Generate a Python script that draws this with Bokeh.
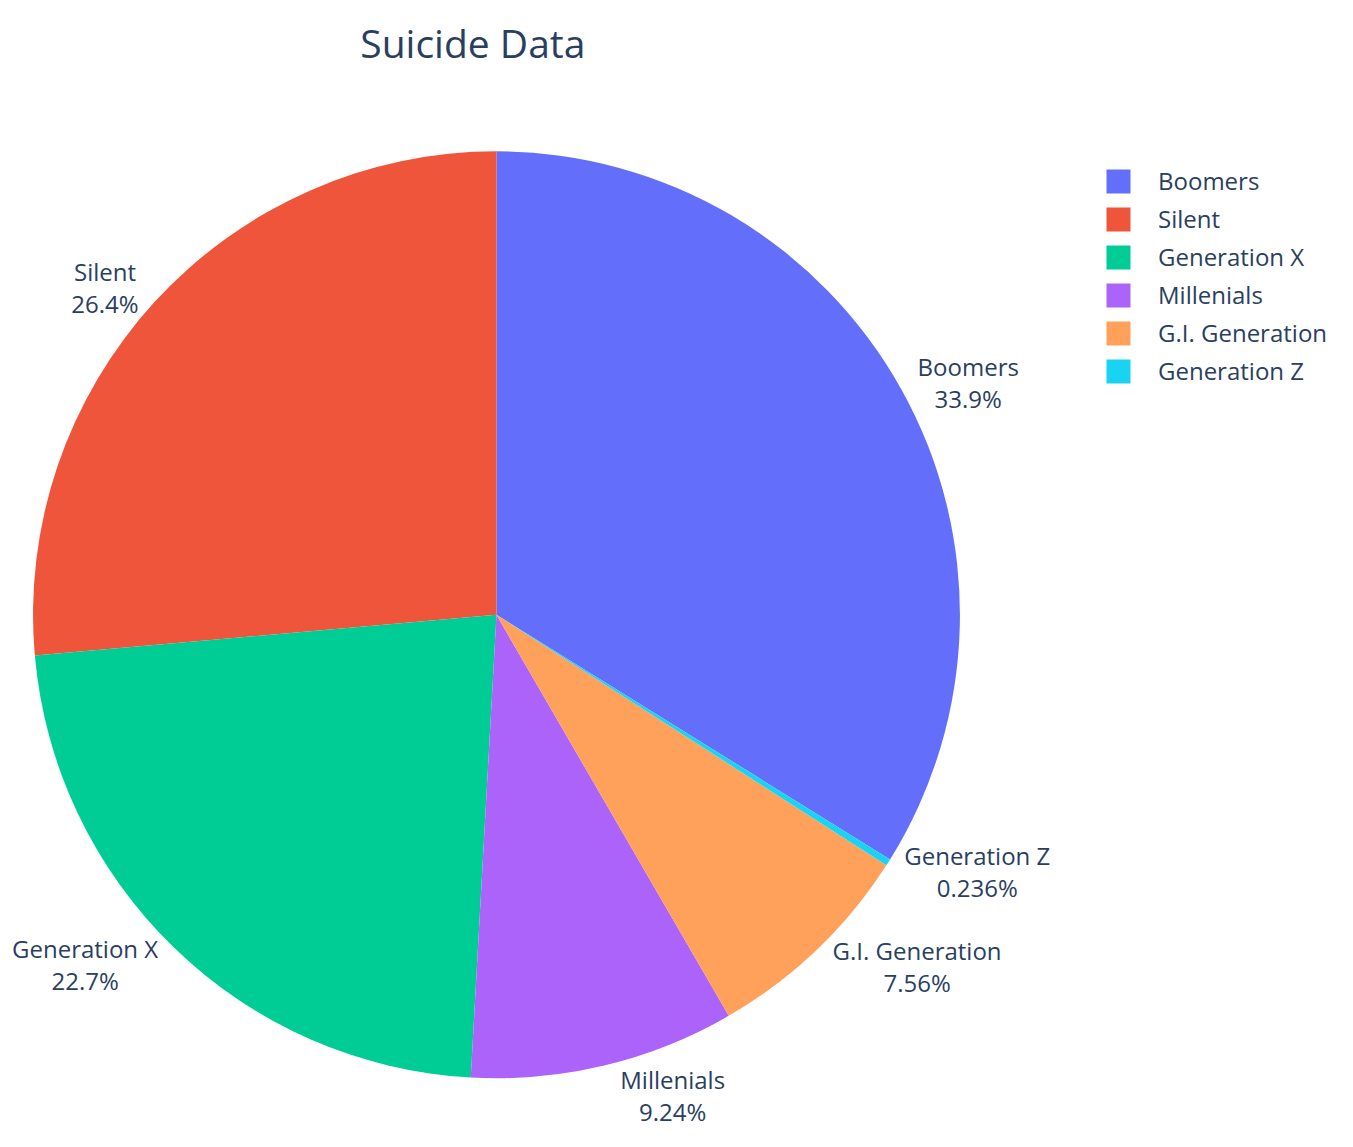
import numpy as np
from bokeh.plotting import figure
from bokeh.models import Range1d, ColumnDataSource, Legend, LegendItem
from bokeh.core.properties import value
from bokeh.embed import file_html
from bokeh.resources import INLINE

# ---- data ----
generations = ["Boomers", "Silent", "Generation X", "Millenials", "G.I. Generation", "Generation Z"]
suicides = [2284498, 1781744, 1532804, 623459, 510009, 15906]
colors = ["#636efa", "#EF553B", "#00cc96", "#ab63fa", "#FFA15A", "#19d3f3"]
title_text = "Suicide Data"

# ---- layout ----
W, H = 1337, 1131
S = H / 1147.0                      # fit the 1353x1147 design into the figure
FONT = "Open Sans"
TXT = "#2a3f5f"
LABEL_PX = 24
cx, cy, R = 503 * S, H - 623 * S, 470 * S

vals = np.array(suicides, dtype=float)
frac = vals / vals.sum()
cum_end = np.cumsum(frac)
cum_start = cum_end - frac
# slices run counter-clockwise; the first slice ends at 12 o'clock
start_angle = np.pi / 2 + 2 * np.pi * (cum_start - frac[0])
end_angle = np.pi / 2 + 2 * np.pi * (cum_end - frac[0])
pct_txt = [format(f * 100, ".3g") + "%" for f in frac]

src = ColumnDataSource(dict(gen=generations, start=start_angle, end=end_angle, color=colors))

p = figure(width=W, height=H, output_backend="svg", toolbar_location=None,
           x_range=Range1d(0, W), y_range=Range1d(0, H),
           min_border=0, outline_line_color=None)
p.axis.visible = False
p.grid.visible = False
p.background_fill_color = "white"
p.border_fill_color = "white"

wr = p.wedge(x=cx, y=cy, radius=R, start_angle="start", end_angle="end",
             direction="anticlock", fill_color="color", line_color=None, source=src)

# ---- outside labels (plotly-like placement) ----
h = 64.0
mid = (start_angle + end_angle) / 2
px = R * np.cos(mid)
py = R * np.sin(mid)
off_y = np.sign(py) * (h / 2) / (1 + px ** 2 / np.where(py == 0, 1e-9, py) ** 2)
lx = cx + px + np.sign(px) * h / 4
ly = cy + py + off_y
texts = [f"{g}\n{t}" for g, t in zip(generations, pct_txt)]
right = px >= 0
for mask, anchor in ((right, "center_left"), (~right, "center_right")):
    s = ColumnDataSource(dict(x=lx[mask], y=ly[mask], t=[texts[i] for i in np.where(mask)[0]]))
    p.text(x="x", y="y", text="t", source=s, anchor=anchor, text_align="center",
           text_baseline="middle", text_font=value(FONT), text_font_size=f"{LABEL_PX}px",
           text_color=TXT, text_line_height=0.97)

# ---- title ----
p.text(x=[479 * S], y=[H - 43 * S], text=[title_text], text_align="center",
       text_baseline="alphabetic", text_font=value(FONT), text_font_size="39px",
       text_color=TXT)

# ---- legend ----
items = [LegendItem(label=g, renderers=[wr], index=i) for i, g in enumerate(generations)]
leg = Legend(items=items, location=(1103, 744), orientation="vertical",
             glyph_width=30, glyph_height=30, label_height=24, spacing=5,
             label_standoff=25, padding=0, margin=0, border_line_color=None,
             background_fill_alpha=0, label_text_font=FONT,
             label_text_font_size=f"{LABEL_PX}px", label_text_color=TXT)
p.add_layout(leg, "center")

open("out.html", "w").write(file_html(p, INLINE))
